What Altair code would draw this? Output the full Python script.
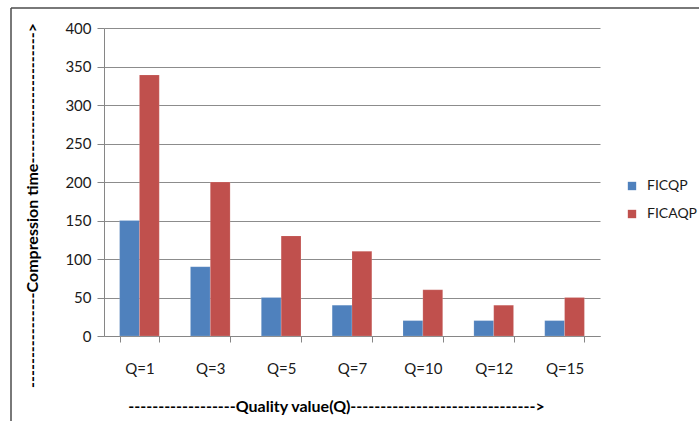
import altair as alt
import pandas as pd

categories = ["Q=1", "Q=3", "Q=5", "Q=7", "Q=10", "Q=12", "Q=15"]
series_names = ["FICQP", "FICAQP"]
ficqp = [150, 90, 50, 40, 20, 20, 20]
ficaqp = [339, 200, 130, 110, 60, 40, 50]
colors = ["#4F81BD", "#C0504D"]
y_ticks = [0, 50, 100, 150, 200, 250, 300, 350, 400]

rows = []
for c, a, b in zip(categories, ficqp, ficaqp):
    rows.append({"Q": c, "series": "FICQP", "value": a})
    rows.append({"Q": c, "series": "FICAQP", "value": b})
df = pd.DataFrame(rows)

FONT = "Lato"
xtitle = "-" * 18 + "Quality value(Q)" + "-" * 31 + ">"
ytitle = "-" * 16 + "Compression time" + "-" * 22 + ">"

bars = alt.Chart(df).mark_bar(stroke="#ffffff", strokeWidth=0.3, strokeOpacity=0.5).encode(
    x=alt.X("Q:N", sort=categories,
            scale=alt.Scale(paddingInner=0.44, paddingOuter=0.22),
            axis=alt.Axis(title=xtitle, labelAngle=0, tickBand="extent", grid=False,
                          tickSize=6, tickColor="#868686", domainColor="#868686",
                          labelPadding=19, labelFontSize=15, labelColor="#1a1a1a",
                          titleFontSize=16, titleFontWeight="bold", titleColor="#000000",
                          titleX=232, titleY=70, titleBaseline="middle")),
    xOffset=alt.XOffset("series:N", sort=series_names),
    y=alt.Y("value:Q", scale=alt.Scale(domain=[0, 400], nice=False),
            axis=alt.Axis(values=y_ticks, title=ytitle, grid=True, gridColor="#8c8c8c",
                          tickSize=7, tickColor="#868686", domainColor="#868686",
                          labelPadding=6, labelFontSize=15, labelColor="#1a1a1a",
                          titleFontSize=16, titleFontWeight="bold", titleColor="#000000",
                          titleAngle=270, titleX=-72, titleY=177, titleBaseline="middle",
                          titleAlign="center")),
    color=alt.Color("series:N", sort=series_names,
                    scale=alt.Scale(domain=series_names, range=colors),
                    legend=alt.Legend(title=None, orient="none", legendX=521, legendY=151,
                                      symbolType="square", symbolSize=70, symbolStrokeWidth=0,
                                      labelFontSize=14, labelColor="#1a1a1a", rowPadding=14,
                                      labelOffset=8)),
)

frame_df = pd.DataFrame({"k": [0]})
frame_left = alt.Chart(frame_df).mark_rule(color="#4d4d4d", strokeWidth=1.5).encode(
    x=alt.value(-93), y=alt.value(-20), y2=alt.value(400))
frame_top = alt.Chart(frame_df).mark_rule(color="#4d4d4d", strokeWidth=1.5).encode(
    x=alt.value(-93), x2=alt.value(700), y=alt.value(-20))

chart = alt.layer(bars, frame_left, frame_top).properties(
    width=496, height=308,
    autosize=alt.AutoSizeParams(type="none"),
    padding={"left": 104, "top": 28, "right": 99, "bottom": 85},
).configure(font=FONT).configure_view(stroke=None).configure_axis(labelFont=FONT, titleFont=FONT)

chart.save("out.html", embed_options={"renderer": "svg", "actions": False})
